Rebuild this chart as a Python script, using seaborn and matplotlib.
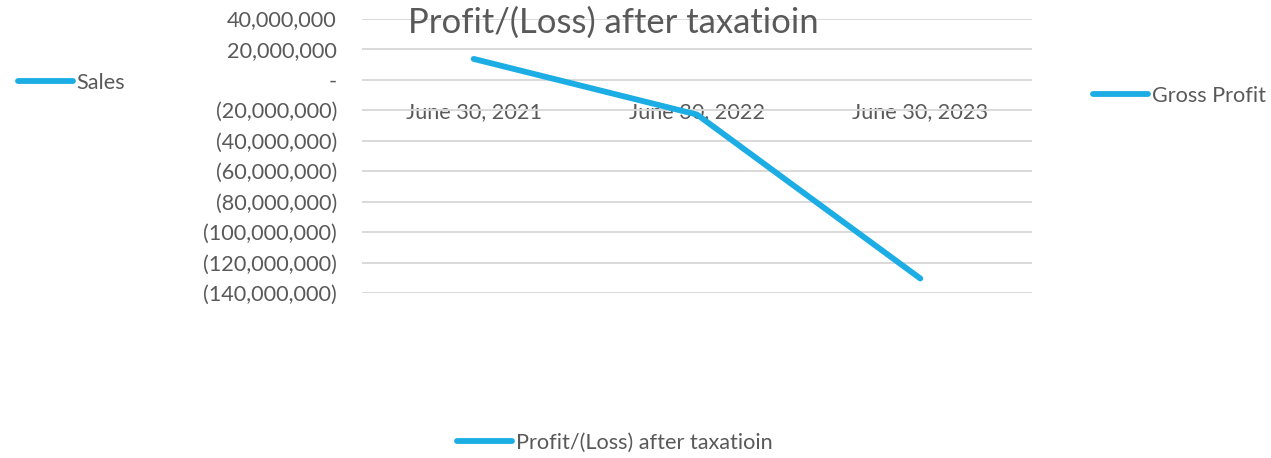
import matplotlib
matplotlib.use("Agg")
import matplotlib.pyplot as plt
import matplotlib.ticker as mticker
from matplotlib.lines import Line2D
import seaborn as sns
import pandas as pd

# ---- data ----
categories = ["June 30, 2021", "June 30, 2022", "June 30, 2023"]
profit_after_tax = [13_500_000, -23_000_000, -130_500_000]
series_name = "Profit/(Loss) after taxatioin"
legend_names = ["Sales", "Gross Profit", "Profit/(Loss) after taxatioin"]
title_text = "Profit/(Loss) after taxatioin"

df = pd.DataFrame({"date": categories, "value": profit_after_tax, "series": series_name})

sns.set_theme(style="white")
plt.rcParams["font.family"] = ["Lato", "DejaVu Sans"]

W, H = 1271, 458
fig = plt.figure(figsize=(W / 100, H / 100), dpi=100)
ax = fig.add_axes([362 / W, 1 - 293 / H, (1032 - 362) / W, (293 - 18.5) / H])

color = "#1CADE4"
text_color = "#595959"
fs = 15.6

sns.lineplot(data=df, x="date", y="value", ax=ax, color=color, linewidth=4.2,
             sort=False, legend=False)
for l in ax.get_lines():
    l.set_solid_capstyle("round")
    l.set_solid_joinstyle("round")

ax.set_xlim(-0.5, 2.5)
ax.set_ylim(-140_000_000, 40_000_000)
ax.yaxis.set_major_locator(mticker.MultipleLocator(20_000_000))


def fmt(v, pos):
    if abs(v) < 1:
        return "-"
    if v < 0:
        return "({:,.0f})".format(-v)
    return "{:,.0f}".format(v)


ax.yaxis.set_major_formatter(mticker.FuncFormatter(fmt))
ax.grid(axis="y", color="#D9D9D9", linewidth=1.4)
ax.grid(axis="x", visible=False)
ax.set_axisbelow(True)
for s in ["left", "right", "top"]:
    ax.spines[s].set_visible(False)
ax.spines["bottom"].set_position(("data", 0))
ax.spines["bottom"].set_visible(False)
ax.tick_params(axis="y", length=0, pad=18, labelsize=fs, labelcolor=text_color)
ax.tick_params(axis="x", length=0, pad=16, labelsize=fs, labelcolor=text_color)
ax.set_xlabel("")
ax.set_ylabel("")

fig.text(613 / W, 1 - 23 / H, title_text, ha="center", va="center",
         fontsize=24.9, color=text_color)


def handle():
    return Line2D([], [], color=color, linewidth=4.2, solid_capstyle="round")


legend_pos = [(18, 83), (1093, 96), (457, 443)]
for name, (px, py) in zip(legend_names, legend_pos):
    fig.legend([handle()], [name], loc="center left",
               bbox_to_anchor=(px / W, 1 - py / H), frameon=False,
               borderpad=0, borderaxespad=0, handlelength=2.55,
               handletextpad=0.15, fontsize=fs, labelcolor=text_color)

fig.savefig("out.png", dpi=100, facecolor="white")
